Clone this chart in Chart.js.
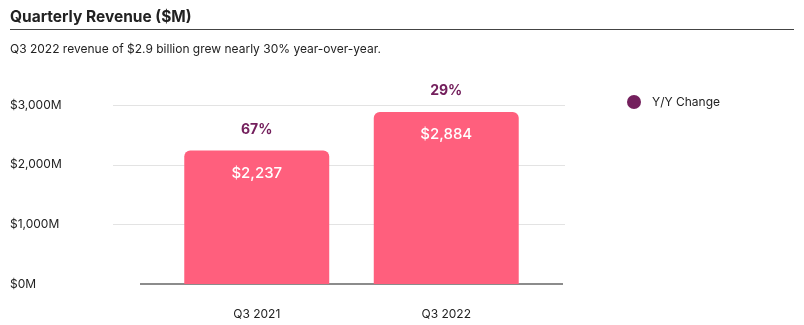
<!DOCTYPE html>
<html lang="en">
<head>
    <meta charset="UTF-8">
    <title>Quarterly Revenue</title>
    <script src="https://cdn.jsdelivr.net/npm/chart.js@4/dist/chart.umd.min.js"></script>
    <style>
        body {
            margin: 0;
            background: #fff;
            font-family: Inter, "Noto Sans", sans-serif;
        }

        .wrap {
            position: relative;
            width: 804px;
            height: 325px;
        }

        .wrap canvas {
            position: absolute;
            left: 0;
            top: 0;
        }

        /* heading block above the chart */
        .head {
            position: absolute;
            left: 10px;
            right: 10px;
            top: 0;
            color: #222;
        }

        .head h1 {
            margin: 0;
            padding-top: 6px;
            font-size: 15.5px;
            font-weight: 700;
            line-height: 22px;
            height: 23px;
            border-bottom: 1px solid #444;
        }

        .head p {
            margin: 0;
            padding-top: 11px;
            font-size: 12px;
            line-height: 16px;
        }
    </style>
</head>
<body>
<div class="wrap">
    <canvas id="revenueChart" width="804" height="325"></canvas>
    <div class="head">
        <h1>Quarterly Revenue ($M)</h1>
        <p>Q3 2022 revenue of $2.9 billion grew nearly 30% year-over-year.</p>
    </div>
</div>

<script>
    // データ
    const quarters = ['Q3 2021', 'Q3 2022'];
    const revenue = [2237, 2884];
    const yoyChange = [67, 29];
    const yTicks = [0, 1000, 2000, 3000];

    const barColor = '#ff5f7d';
    const yoyColor = '#74205d';

    // グリッド線と軸線 (y軸の目盛りから描く)
    const gridPlugin = {
        id: 'gridLines',
        beforeDatasetsDraw(chart) {
            const {ctx, chartArea, scales: {y}} = chart;
            ctx.save();
            yTicks.forEach(v => {
                const py = Math.round(y.getPixelForValue(v));
                if (v === 0) {
                    ctx.strokeStyle = '#8c8c8c';
                    ctx.lineWidth = 2;
                    ctx.beginPath();
                    ctx.moveTo(chartArea.left - 22, py);
                    ctx.lineTo(chartArea.right + 22, py);
                    ctx.stroke();
                } else {
                    ctx.strokeStyle = '#e3e3e3';
                    ctx.lineWidth = 1;
                    ctx.beginPath();
                    ctx.moveTo(chartArea.left - 49, py + 0.5);
                    ctx.lineTo(chartArea.right + 24, py + 0.5);
                    ctx.stroke();
                }
            });
            ctx.restore();
        }
    };

    // 棒の中の金額と上の前年比
    const labelPlugin = {
        id: 'barLabels',
        afterDatasetsDraw(chart) {
            const {ctx} = chart;
            const bars = chart.getDatasetMeta(0).data;
            ctx.save();
            ctx.textAlign = 'center';
            ctx.textBaseline = 'middle';
            bars.forEach((bar, i) => {
                ctx.fillStyle = '#fff';
                ctx.font = '500 15px Inter, "Noto Sans", sans-serif';
                ctx.fillText('$' + revenue[i].toLocaleString('en-US'), bar.x, bar.y + 23);
                ctx.fillStyle = yoyColor;
                ctx.font = '700 14px Inter, "Noto Sans", sans-serif';
                ctx.fillText(yoyChange[i] + '%', bar.x, bar.y - 21);
            });
            ctx.restore();
        }
    };

    // 凡例
    const legendPlugin = {
        id: 'yoyLegend',
        afterDraw(chart) {
            const {ctx, chartArea} = chart;
            const x = chartArea.right + 93;
            const y = chartArea.top - 3;
            ctx.save();
            ctx.fillStyle = yoyColor;
            ctx.beginPath();
            ctx.arc(x, y, 7, 0, Math.PI * 2);
            ctx.fill();
            ctx.fillStyle = '#222';
            ctx.font = '12px Inter, "Noto Sans", sans-serif';
            ctx.textBaseline = 'middle';
            ctx.fillText('Y/Y Change', x + 18, y);
            ctx.restore();
        }
    };

    const revenueChart = new Chart(
        document.getElementById('revenueChart'),
        {
            type: 'bar',
            data: {
                labels: quarters,
                datasets: [{
                    label: 'Revenue',
                    data: revenue,
                    backgroundColor: barColor,
                    borderRadius: 6,
                    borderSkipped: 'bottom',
                    categoryPercentage: 0.9,
                    barPercentage: 0.85
                }]
            },
            options: {
                responsive: false,
                animation: false,
                layout: {
                    padding: {left: 10, right: 263, top: 105, bottom: 0}
                },
                plugins: {
                    legend: {display: false},
                    tooltip: {enabled: false}
                },
                scales: {
                    x: {
                        grid: {display: false, drawTicks: false},
                        border: {display: false},
                        ticks: {
                            color: '#222',
                            padding: 23,
                            font: {family: 'Inter, "Noto Sans", sans-serif', size: 12}
                        },
                        afterFit(scale) {
                            scale.height = 41;
                        }
                    },
                    y: {
                        min: 0,
                        max: 3000,
                        grid: {display: false, drawTicks: false},
                        border: {display: false},
                        afterBuildTicks(scale) {
                            scale.ticks = yTicks.map(v => ({value: v}));
                        },
                        ticks: {
                            color: '#222',
                            crossAlign: 'far',
                            font: {family: 'Inter, "Noto Sans", sans-serif', size: 12},
                            callback: v => '$' + v.toLocaleString('en-US') + 'M'
                        },
                        afterFit(scale) {
                            scale.width = 152;
                        }
                    }
                }
            },
            plugins: [gridPlugin, labelPlugin, legendPlugin]
        }
    );
</script>
</body>
</html>
